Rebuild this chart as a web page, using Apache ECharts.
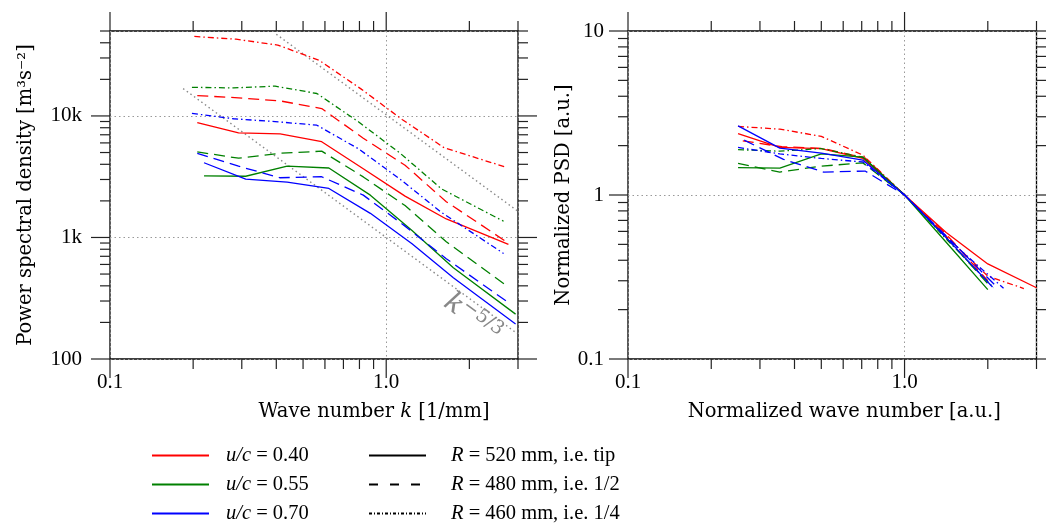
<!DOCTYPE html>
<html><head><meta charset="utf-8">
<script src="https://cdn.jsdelivr.net/npm/echarts@6/dist/echarts.min.js"></script>
<style>html,body{margin:0;padding:0;background:#fff}#c{width:1046px;height:524px}</style>
</head><body><div id="c"></div>
<script>
// ---------------- data ----------------
// left panel: wave number k [1/mm]
const kGridA = [0.207, 0.292, 0.413, 0.584, 0.826, 1.17, 1.65, 2.77];
const kGridB = [0.219, 0.310, 0.438, 0.620, 0.876, 1.24, 1.75, 2.94];
const kGridC = [0.198, 0.280, 0.396, 0.561, 0.793, 1.12, 1.59, 2.66];
const kGridD = [0.202, 0.286, 0.405, 0.572, 0.810, 1.145, 1.62, 2.71];
// PSD [m^3 s^-2]
const psdRedTip      = [8830, 7250, 7110, 6140, 3680, 2190, 1420, 876];
const psdRedHalf     = [14700, 14100, 13300, 11500, 6560, 3930, 1970, 898];
const psdRedQuarter  = [45100, 42800, 38300, 28700, 16700, 9310, 5480, 3790];
const psdGreenTip    = [3210, 3190, 3860, 3730, 2230, 1140, 564, 234];
const psdGreenHalf   = [5060, 4490, 4930, 5130, 3150, 1830, 923, 390];
const psdGreenQuarter= [17200, 17000, 17600, 15300, 8960, 4960, 2500, 1360];
const psdBlueTip     = [4120, 3020, 2850, 2530, 1580, 889, 467, 194];
const psdBlueHalf    = [4930, 3860, 3100, 3160, 2230, 1240, 669, 291];
const psdBlueQuarter = [10500, 9480, 8990, 8390, 5370, 3030, 1600, 739];
// k^-5/3 guide lines (end points)
const guideUpperK = [0.40, 2.98],  guideUpperPsd = [47000, 1660];
const guideLowerK = [0.184, 2.98], guideLowerPsd = [16800, 162];

// right panel: normalized wave number / normalized PSD
const nkRedTip      = [0.25, 0.354, 0.5, 0.707, 1, 1.414, 2, 3.0];
const nRedTip       = [2.37, 1.95, 1.92, 1.67, 1, 0.59, 0.38, 0.272];
const nkRedHalf     = [0.26, 0.36, 0.51, 0.72, 1, 1.41, 2.0];
const nRedHalf      = [2.14, 1.97, 1.92, 1.68, 1, 0.58, 0.30];
const nkRedQuarter  = [0.25, 0.354, 0.5, 0.707, 1, 1.414, 2, 2.7];
const nRedQuarter   = [2.62, 2.52, 2.28, 1.75, 1, 0.56, 0.32, 0.269];
const nkGreenTip    = [0.25, 0.354, 0.5, 0.707, 1, 1.414, 2.0];
const nGreenTip     = [1.47, 1.46, 1.78, 1.70, 1, 0.515, 0.265];
const nkGreenHalf   = [0.25, 0.354, 0.5, 0.707, 1, 1.414, 2.05];
const nGreenHalf    = [1.56, 1.38, 1.50, 1.57, 1, 0.55, 0.275];
const nkGreenQuarter= [0.25, 0.354, 0.5, 0.707, 1, 1.414, 2.1];
const nGreenQuarter = [1.89, 1.85, 1.92, 1.70, 1, 0.54, 0.272];
const nkBlueTip     = [0.25, 0.354, 0.5, 0.707, 1, 1.414, 2.08];
const nBlueTip      = [2.64, 1.93, 1.80, 1.63, 1, 0.55, 0.275];
const nkBlueHalf    = [0.263, 0.365, 0.51, 0.72, 1, 1.45, 2.18];
const nBlueHalf     = [2.16, 1.65, 1.38, 1.40, 1, 0.54, 0.27];
const nkBlueQuarter = [0.25, 0.354, 0.5, 0.707, 1, 1.414, 2.28];
const nBlueQuarter  = [1.95, 1.78, 1.67, 1.59, 1, 0.55, 0.27];

// axes ticks / labels
const xTickMajor = [0.1, 1];
const xTickMinor = [0.2, 0.3, 0.4, 0.5, 0.6, 0.7, 0.8, 0.9, 2, 3];
const xTickLabels = ['0.1', '1.0'];
const yLeftMajor = [100, 1000, 10000];
const yLeftMinor = [200,300,400,500,600,700,800,900,2000,3000,4000,5000,6000,7000,8000,9000,20000,30000,40000,50000];
const yLeftLabels = ['100', '1k', '10k'];
const yRightMajor = [0.1, 1, 10];
const yRightMinor = [0.2,0.3,0.4,0.5,0.6,0.7,0.8,0.9,2,3,4,5,6,7,8,9];
const yRightLabels = ['0.1', '1', '10'];

const legendColorNames = ['u/c = 0.40', 'u/c = 0.55', 'u/c = 0.70'];
const legendStyleNames = ['R = 520 mm, i.e. tip', 'R = 480 mm, i.e. 1/2', 'R = 460 mm, i.e. 1/4'];

// ---------------- styling ----------------
const RED = '#ff0000', GREEN = '#008000', BLUE = '#0000ff';
const DASH = [11, 6], DASHDOT = [6, 3, 1.5, 3];
const SERIF = 'DejaVu Serif', NUMF = 'Liberation Serif';

function pairs(xs, ys) { return xs.map((x, i) => [x, ys[i]]); }
function dataLine(name, gi, xs, ys, color, type) {
  return { name, type: 'line', xAxisIndex: gi, yAxisIndex: gi, data: pairs(xs, ys),
    symbol: 'none', silent: true, lineStyle: { color, width: 1.3, type }, z: 3 };
}
function labelFor(vals, labels) {
  return v => {
    for (let i = 0; i < vals.length; i++) if (Math.abs(v - vals[i]) / vals[i] < 1e-6) return labels[i];
    return '';
  };
}
function tickSeries(gi, xMin, xMax, yMin, yMax, xMaj, xMin_, yMaj, yMin_) {
  const data = [];
  xMaj.forEach(v => data.push([v, yMin, 0, 1]));
  xMin_.forEach(v => data.push([v, yMin, 0, 0]));
  yMaj.forEach(v => data.push([xMin, v, 1, 1]));
  yMin_.forEach(v => data.push([xMin, v, 1, 0]));
  return {
    type: 'custom', xAxisIndex: gi, yAxisIndex: gi, clip: false, silent: true, z: 6, data,
    renderItem: (params, api) => {
      const t = api.value(2), len = api.value(3) ? 19 : 10;
      const st = { stroke: '#222', lineWidth: 1.2 };
      if (t === 0) {
        const x = api.value(0);
        const a = api.coord([x, yMin]), b = api.coord([x, yMax]);
        return { type: 'group', children: [
          { type: 'line', shape: { x1: a[0], y1: a[1], x2: a[0], y2: a[1] + len }, style: st },
          { type: 'line', shape: { x1: b[0], y1: b[1], x2: b[0], y2: b[1] - len }, style: st }] };
      }
      const y = api.value(1);
      const a = api.coord([xMin, y]), b = api.coord([xMax, y]);
      return { type: 'group', children: [
        { type: 'line', shape: { x1: a[0] - len, y1: a[1], x2: a[0], y2: a[1] }, style: st },
        { type: 'line', shape: { x1: b[0], y1: b[1], x2: b[0] + len, y2: b[1] }, style: st }] };
    }
  };
}
const splitStyle = { show: true, lineStyle: { color: '#999', type: [1.5, 3], width: 1 } };
const nameStyle = { fontFamily: SERIF, fontSize: 19.5, color: '#000',
  rich: { i: { fontFamily: SERIF, fontSize: 19.5, fontStyle: 'italic', color: '#000' } } };
const legendText = (pad) => ({ fontFamily: NUMF, fontSize: 20.5, color: '#000', lineHeight: 20, padding: [0, 0, 0, pad],
  rich: { i: { fontFamily: NUMF, fontSize: 20.5, fontStyle: 'italic', color: '#000', lineHeight: 20 } } });

const chart = echarts.init(document.getElementById('c'), null, { renderer: 'canvas' });
const option = {
  animation: false,
  backgroundColor: '#fff',
  grid: [
    { left: 110, right: 528, top: 31, bottom: 165, show: true, borderColor: '#000', borderWidth: 1.3, backgroundColor: 'transparent' },
    { left: 628, right: 9.5, top: 31, bottom: 165, show: true, borderColor: '#000', borderWidth: 1.3, backgroundColor: 'transparent' }
  ],
  xAxis: [
    { type: 'log', logBase: 10, gridIndex: 0, min: 0.1, max: 3,
      axisLine: { show: false }, axisTick: { show: false }, splitLine: splitStyle,
      axisLabel: { formatter: labelFor(xTickMajor, xTickLabels), fontFamily: NUMF, fontSize: 21, color: '#000', margin: 13, showMinLabel: true, showMaxLabel: true },
      name: 'Wave number {i|k} [1/mm]', nameLocation: 'middle', nameGap: 43,
      nameTextStyle: Object.assign({}, nameStyle, { padding: [0, 0, 0, 120] }) },
    { type: 'log', logBase: 10, gridIndex: 1, min: 0.1, max: 3,
      axisLine: { show: false }, axisTick: { show: false }, splitLine: splitStyle,
      axisLabel: { formatter: labelFor(xTickMajor, xTickLabels), fontFamily: NUMF, fontSize: 21, color: '#000', margin: 13, showMinLabel: true, showMaxLabel: true },
      name: 'Normalized wave number [a.u.]', nameLocation: 'middle', nameGap: 43,
      nameTextStyle: Object.assign({}, nameStyle, { padding: [0, 0, 0, 24] }) }
  ],
  yAxis: [
    { type: 'log', logBase: 10, gridIndex: 0, min: 100, max: 50000,
      axisLine: { show: false }, axisTick: { show: false }, splitLine: splitStyle,
      axisLabel: { formatter: labelFor(yLeftMajor, yLeftLabels), fontFamily: NUMF, fontSize: 21, color: '#000', margin: 28, showMinLabel: true, showMaxLabel: true },
      name: 'Power spectral density [m³s⁻²]', nameLocation: 'middle', nameGap: 74, nameTextStyle: nameStyle },
    { type: 'log', logBase: 10, gridIndex: 1, min: 0.1, max: 10,
      axisLine: { show: false }, axisTick: { show: false }, splitLine: splitStyle,
      axisLabel: { formatter: labelFor(yRightMajor, yRightLabels), fontFamily: NUMF, fontSize: 21, color: '#000', margin: 24, showMinLabel: true, showMaxLabel: true },
      name: 'Normalized PSD [a.u.]', nameLocation: 'middle', nameGap: 48, nameTextStyle: nameStyle }
  ],
  legend: [
    { data: legendColorNames, orient: 'vertical', left: 151, top: 445, padding: 0, itemWidth: 57, itemHeight: 14, itemGap: 8,
      selectedMode: false, itemStyle: { opacity: 0 }, formatter: n => n.replace('u/c', '{i|u/c}'), textStyle: legendText(12) },
    { data: legendStyleNames, orient: 'vertical', left: 368, top: 445, padding: 0, itemWidth: 57, itemHeight: 14, itemGap: 8,
      selectedMode: false, itemStyle: { opacity: 0 }, formatter: n => n.replace('R', '{i|R}'), textStyle: legendText(20) }
  ],
  series: [
    // guides
    { type: 'line', xAxisIndex: 0, yAxisIndex: 0, data: pairs(guideUpperK, guideUpperPsd), symbol: 'none', silent: true,
      lineStyle: { color: '#888', width: 1.4, type: [1.5, 3] }, z: 2 },
    { type: 'line', xAxisIndex: 0, yAxisIndex: 0, data: pairs(guideLowerK, guideLowerPsd), symbol: 'none', silent: true,
      lineStyle: { color: '#888', width: 1.4, type: [1.5, 3] }, z: 2 },
    // left panel
    dataLine('L red tip', 0, kGridA, psdRedTip, RED, 'solid'),
    dataLine('L red half', 0, kGridA, psdRedHalf, RED, DASH),
    dataLine('L red quarter', 0, kGridD, psdRedQuarter, RED, DASHDOT),
    dataLine('L green tip', 0, kGridB, psdGreenTip, GREEN, 'solid'),
    dataLine('L green half', 0, kGridA, psdGreenHalf, GREEN, DASH),
    dataLine('L green quarter', 0, kGridC, psdGreenQuarter, GREEN, DASHDOT),
    dataLine('L blue tip', 0, kGridB, psdBlueTip, BLUE, 'solid'),
    dataLine('L blue half', 0, kGridA, psdBlueHalf, BLUE, DASH),
    dataLine('L blue quarter', 0, kGridC, psdBlueQuarter, BLUE, DASHDOT),
    // right panel
    dataLine('R red tip', 1, nkRedTip, nRedTip, RED, 'solid'),
    dataLine('R red half', 1, nkRedHalf, nRedHalf, RED, DASH),
    dataLine('R red quarter', 1, nkRedQuarter, nRedQuarter, RED, DASHDOT),
    dataLine('R green tip', 1, nkGreenTip, nGreenTip, GREEN, 'solid'),
    dataLine('R green half', 1, nkGreenHalf, nGreenHalf, GREEN, DASH),
    dataLine('R green quarter', 1, nkGreenQuarter, nGreenQuarter, GREEN, DASHDOT),
    dataLine('R blue tip', 1, nkBlueTip, nBlueTip, BLUE, 'solid'),
    dataLine('R blue half', 1, nkBlueHalf, nBlueHalf, BLUE, DASH),
    dataLine('R blue quarter', 1, nkBlueQuarter, nBlueQuarter, BLUE, DASHDOT),
    // ticks
    tickSeries(0, 0.1, 3, 100, 50000, xTickMajor, xTickMinor, yLeftMajor, yLeftMinor),
    tickSeries(1, 0.1, 3, 0.1, 10, xTickMajor, xTickMinor, yRightMajor, yRightMinor),
    // legend entries
    { name: legendColorNames[0], type: 'line', data: [], symbol: 'none', lineStyle: { color: RED, width: 1.3 }, itemStyle: { color: RED } },
    { name: legendColorNames[1], type: 'line', data: [], symbol: 'none', lineStyle: { color: GREEN, width: 1.3 }, itemStyle: { color: GREEN } },
    { name: legendColorNames[2], type: 'line', data: [], symbol: 'none', lineStyle: { color: BLUE, width: 1.3 }, itemStyle: { color: BLUE } },
    { name: legendStyleNames[0], type: 'line', data: [], symbol: 'none', lineStyle: { color: '#000', width: 1.3, type: 'solid' }, itemStyle: { color: '#000' } },
    { name: legendStyleNames[1], type: 'line', data: [], symbol: 'none', lineStyle: { color: '#000', width: 1.3, type: [9, 12] }, itemStyle: { color: '#000' } },
    { name: legendStyleNames[2], type: 'line', data: [], symbol: 'none', lineStyle: { color: '#000', width: 1.1, type: [3, 2, 1, 2] }, itemStyle: { color: '#000' } }
  ]
};
chart.setOption(option);

// k^-5/3 annotation placed through the axis scales
const annPos = chart.convertToPixel({ xAxisIndex: 0, yAxisIndex: 0 }, [2.05, 217]);
chart.setOption({ graphic: [{
  type: 'text', x: annPos[0], y: annPos[1], rotation: -0.634, silent: true, z: 10,
  style: { text: '{k|k}{s|−5/3}', align: 'center', verticalAlign: 'middle',
    rich: { k: { fontFamily: SERIF, fontStyle: 'italic', fontSize: 28, fill: '#888', lineHeight: 32 },
            s: { fontFamily: SERIF, fontSize: 19, fill: '#888', verticalAlign: 'top', lineHeight: 20 } } }
}] });
</script>
</body></html>
